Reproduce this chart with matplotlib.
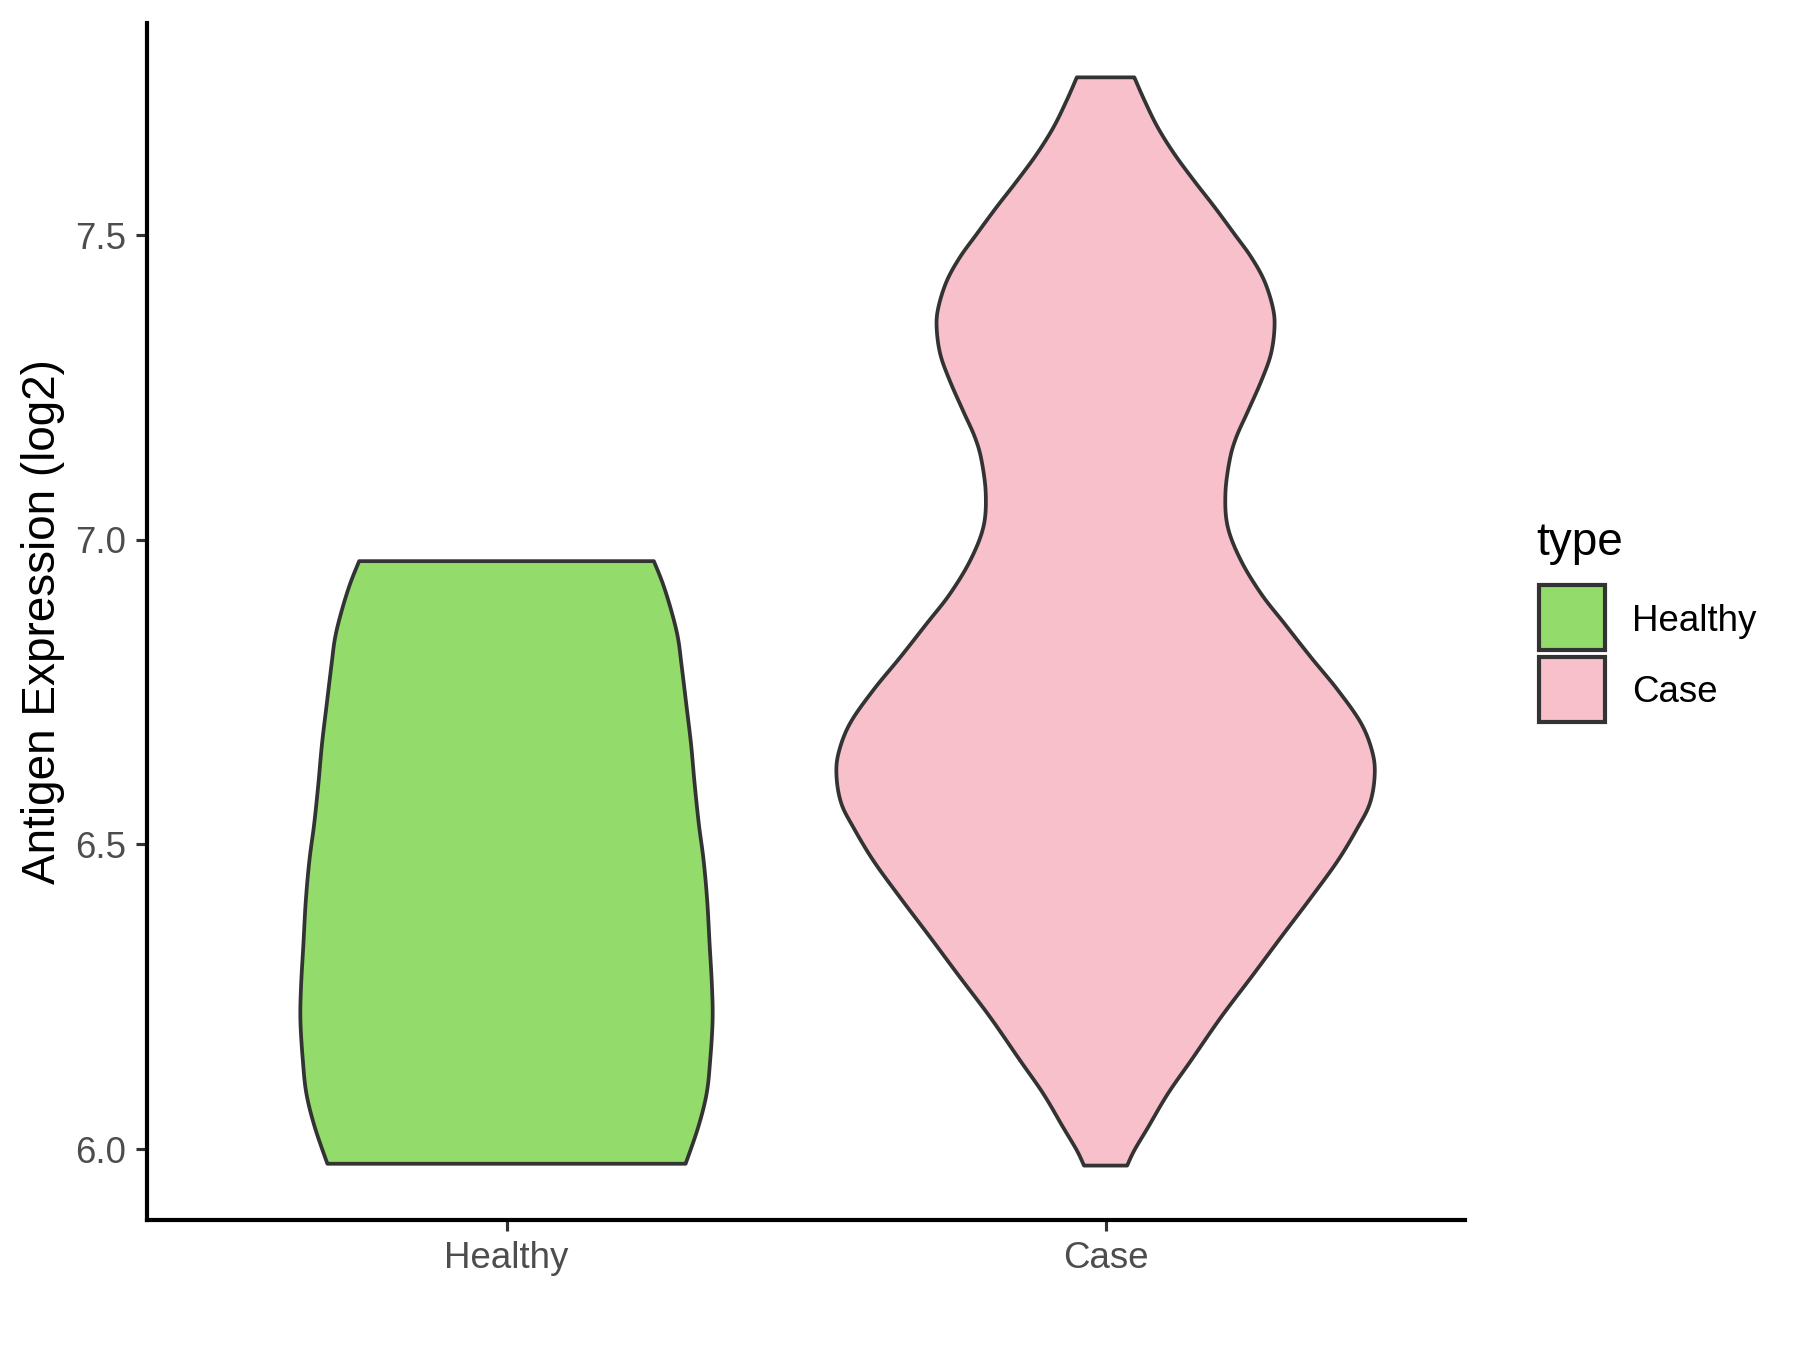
import numpy as np
import matplotlib
matplotlib.use("Agg")
import matplotlib.pyplot as plt
from matplotlib.patches import Rectangle

plt.rcParams['font.family'] = ['Liberation Sans', 'DejaVu Sans']

# ---- data ----
categories = ["Healthy", "Case"]
colors = ["#93DB6A", "#F7C0CB"]

# violin outlines: expression level and half-width of the density (in x units)
healthy_y = [5.976, 6.036, 6.091, 6.146, 6.211, 6.266, 6.337, 6.408, 6.474, 6.534,
             6.600, 6.665, 6.731, 6.796, 6.840, 6.884, 6.928, 6.965]
healthy_hw = [0.299, 0.320, 0.334, 0.340, 0.344, 0.343, 0.339, 0.335, 0.329, 0.321,
              0.314, 0.308, 0.300, 0.292, 0.286, 0.275, 0.261, 0.246]

case_y = [5.973, 5.998, 6.036, 6.091, 6.146, 6.217, 6.282, 6.348, 6.413, 6.474,
          6.528, 6.567, 6.610, 6.649, 6.698, 6.753, 6.807, 6.862, 6.911, 6.966,
          7.021, 7.075, 7.130, 7.168, 7.212, 7.261, 7.305, 7.349, 7.382, 7.425,
          7.464, 7.502, 7.546, 7.589, 7.633, 7.677, 7.721, 7.759]
case_hw = [0.036, 0.048, 0.071, 0.104, 0.143, 0.193, 0.243, 0.293, 0.343, 0.388,
           0.421, 0.441, 0.449, 0.446, 0.427, 0.388, 0.343, 0.299, 0.260, 0.226,
           0.204, 0.200, 0.207, 0.218, 0.238, 0.260, 0.276, 0.282, 0.279, 0.265,
           0.243, 0.215, 0.182, 0.148, 0.115, 0.087, 0.065, 0.048]

yticks = [6.0, 6.5, 7.0, 7.5]
ytick_labels = ["6.0", "6.5", "7.0", "7.5"]
ylabel = "Antigen Expression (log2)"
legend_title = "type"


def smooth(y, hw, n=16):
    P = np.column_stack([hw, y])
    P = np.vstack([P[0], P, P[-1]])
    out = []
    t = np.linspace(0, 1, n, endpoint=False)[:, None]
    for i in range(1, len(P) - 2):
        p0, p1, p2, p3 = P[i - 1], P[i], P[i + 1], P[i + 2]
        out.append(0.5 * ((2 * p1) + (-p0 + p2) * t + (2 * p0 - 5 * p1 + 4 * p2 - p3) * t ** 2
                          + (-p0 + 3 * p1 - 3 * p2 + p3) * t ** 3))
    out.append(P[-2][None])
    S = np.vstack(out)
    return S[:, 1], S[:, 0]


fig = plt.figure(figsize=(6, 4.5), dpi=300)
ax = fig.add_axes([0.0817, 0.0963, 0.8139 - 0.0817, 0.983 - 0.0963])

edge = "#333333"
for pos, (ys, hws), col in zip([1, 2], [(healthy_y, healthy_hw), (case_y, case_hw)], colors):
    sy, shw = smooth(ys, hws)
    xs = np.concatenate([pos - shw, (pos + shw)[::-1]])
    yy = np.concatenate([sy, sy[::-1]])
    ax.fill(xs, yy, facecolor=col, edgecolor=edge, linewidth=0.9, joinstyle='round', zorder=2)

allv = healthy_y + case_y
lo, hi = min(allv), max(allv)
pad = 0.05 * (hi - lo)
ax.set_ylim(lo - pad, hi + pad)
ax.set_xlim(0.4, 2.6)

ax.set_xticks([1, 2])
ax.set_xticklabels(categories)
ax.set_yticks(yticks)
ax.set_yticklabels(ytick_labels)

for s in ["top", "right"]:
    ax.spines[s].set_visible(False)
for s in ["left", "bottom"]:
    ax.spines[s].set_linewidth(1.0)
    ax.spines[s].set_color("black")

ax.tick_params(axis="both", length=2.75, width=0.75, color=edge, pad=2.2,
               labelsize=8.8, labelcolor="#4D4D4D")
ax.set_ylabel(ylabel, fontsize=11, color="black", labelpad=2.6)

# legend (ggplot-style guide)
fig.text(0.8537, 0.5889, legend_title, fontsize=11, color="black",
         ha="left", va="baseline")
key_x, key_w, key_h = 0.8550, 0.0367, 0.0481
key_y0 = [0.5185, 0.4652]
label_base = [0.5328, 0.4802]
for col, lab, ky, lb in zip(colors, categories, key_y0, label_base):
    fig.add_artist(Rectangle((key_x, ky), key_w, key_h, transform=fig.transFigure,
                             facecolor=col, edgecolor=edge, linewidth=1.0))
    fig.text(0.9065, lb, lab, fontsize=8.8, color="black", ha="left", va="baseline")

fig.savefig("out.png", dpi=300, facecolor="white")
